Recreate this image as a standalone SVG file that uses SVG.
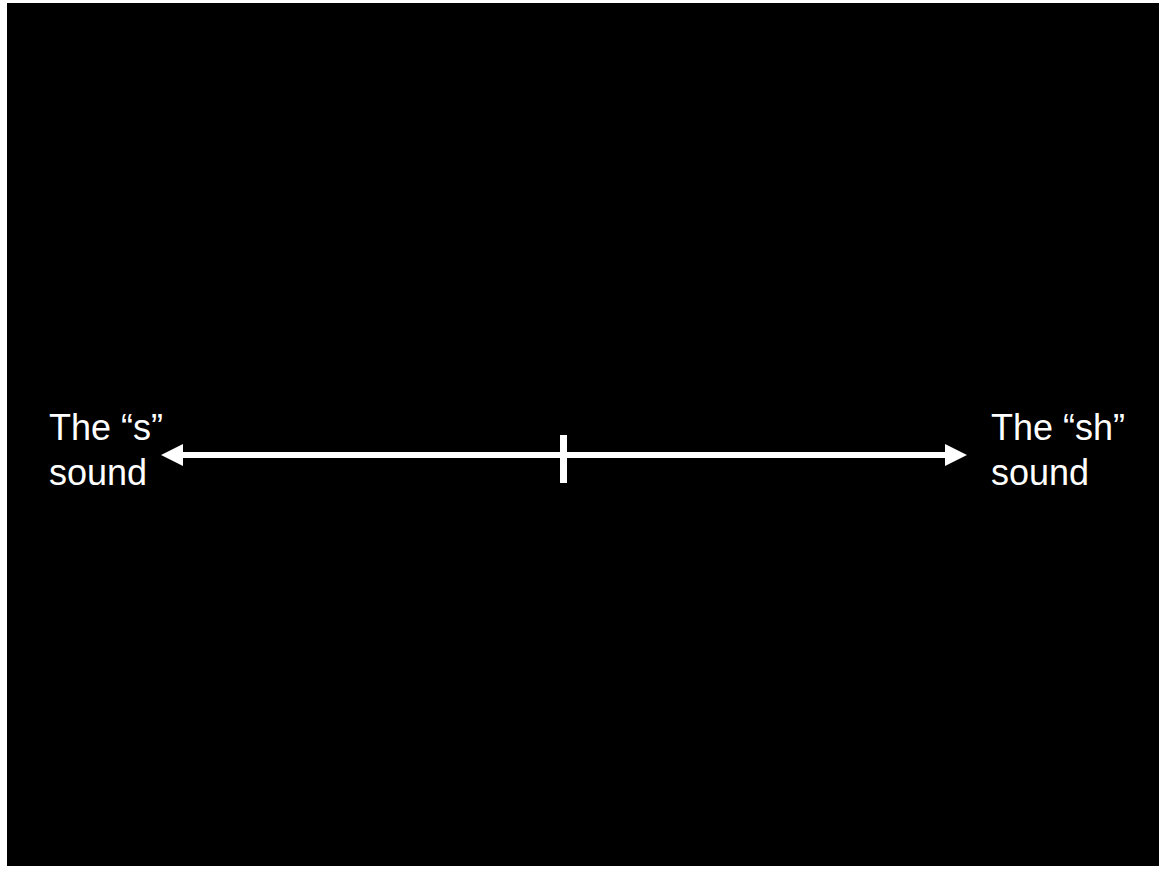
<svg xmlns="http://www.w3.org/2000/svg" width="1165" height="869" viewBox="0 0 1165 869">
<style>
.lbl{font-family:"Liberation Sans",Arial,sans-serif;font-size:36px;fill:#fff}
</style>
<rect x="0" y="0" width="1165" height="869" fill="#fff"/>
<rect x="7" y="3" width="1152" height="863" fill="#000"/>
<g id="connectors">
<line x1="180" y1="455" x2="948" y2="455" stroke="#fff" stroke-width="6"/>
<polygon points="161,455 183,444 183,466" fill="#fff"/>
<polygon points="967,455 945,444 945,466" fill="#fff"/>
</g>
<g id="tick"><rect x="560" y="435" width="7" height="48" fill="#fff"/></g>
<g id="left-label"><text class="lbl" x="49" y="440">The “s”</text><text class="lbl" x="49" y="485">sound</text></g>
<g id="right-label"><text class="lbl" x="991" y="440">The “sh”</text><text class="lbl" x="991" y="485">sound</text></g>
</svg>
